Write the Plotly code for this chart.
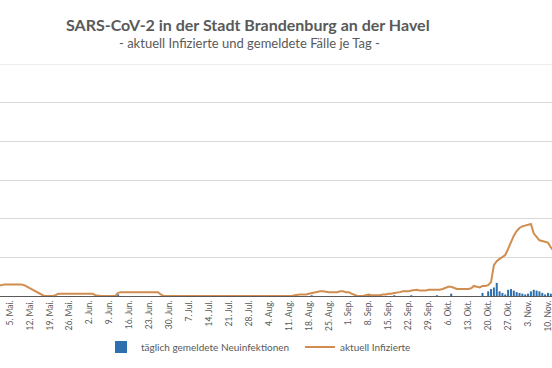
import pandas as pd
import plotly.graph_objects as go

# ---------------- data ----------------
dates = pd.date_range("2020-04-28", "2020-11-12", freq="D")

# aktuell Infizierte (active infections), per month
apr_active = [14, 14, 14]
may_active = [14, 14, 15, 15, 15, 15, 15, 15, 15, 14, 12, 10, 8, 6, 3, 1,
              0, 0, 0, 0, 1, 3, 3, 3, 3, 3, 3, 3, 3, 3, 3]
jun_active = [3, 3, 3, 1, 0, 0, 0, 0, 0, 0, 0, 4, 5, 5, 5, 5, 5, 5, 5, 5,
              5, 5, 5, 5, 5, 5, 2, 0, 0, 0]
jul_active = [0, 0, 0, 0, 0, 0, 0, 0, 0, 0, 0, 0, 0, 0, 0, 0, 0, 0, 0, 0,
              0, 0, 0, 0, 0, 0, 0, 0, 0, 0, 0]
aug_active = [0, 0, 0, 0, 0, 0, 0, 0, 0, 0, 0, 0, 1, 2, 2, 2, 2, 3, 4, 5,
              6, 6, 6, 5, 5, 5, 5, 5, 6, 6, 5]
sep_active = [5, 3, 1, 0, 0, 0, 1, 2, 1, 1, 1, 1, 2, 2, 3, 3, 4, 5, 5, 6,
              6, 6, 7, 8, 8, 7, 7, 7, 8, 8]
oct_active = [8, 8, 8, 9, 11, 12, 12, 10, 9, 9, 9, 9, 9, 10, 13, 12, 11, 13,
              13, 14, 18, 40, 45, 48, 50, 53, 61, 70, 78, 84, 88]
nov_active = [90, 91, 92, 93, 81, 76, 72, 71, 70, 69, 63, 58]

# täglich gemeldete Neuinfektionen (daily new cases), per month
apr_new = [0, 0, 0]
may_new = [1, 0, 0, 0, 0, 0, 0, 0, 0, 0, 0, 0, 0, 0, 0, 0, 0, 0, 0, 0,
           0, 0, 0, 0, 0, 0, 0, 0, 0, 0, 0]
jun_new = [0, 0, 0, 0, 0, 0, 0, 0, 0, 0, 0, 2, 0, 0, 0, 0, 0, 0, 0, 0,
           0, 0, 0, 0, 0, 0, 0, 0, 0, 0]
jul_new = [0, 0, 0, 0, 0, 0, 0, 0, 0, 0, 0, 0, 0, 0, 0, 0, 0, 0, 0, 0,
           0, 0, 0, 0, 0, 0, 0, 0, 0, 0, 0]
aug_new = [0, 0, 0, 0, 0, 0, 0, 0, 0, 0, 0, 0, 0, 0, 0, 0, 0, 0, 1, 0,
           0, 0, 0, 0, 0, 0, 0, 0, 0, 0, 0]
sep_new = [0, 0, 0, 0, 0, 0, 0, 1, 0, 0, 0, 0, 0, 0, 0, 0, 1, 0, 0, 0,
           0, 0, 1, 0, 0, 0, 0, 0, 0, 0]
oct_new = [0, 1, 0, 0, 0, 0, 3, 0, 0, 0, 0, 0, 0, 0, 0, 0, 0, 4, 0, 6,
           9, 11, 17, 6, 4, 2, 8, 9, 7, 5, 4]
nov_new = [3, 2, 3, 6, 8, 7, 6, 4, 2, 4, 3, 3]

y_gridlines = [0, 50, 100, 150, 200, 250, 300]

tick_dates = ["2020-05-05", "2020-05-12", "2020-05-19", "2020-05-26",
              "2020-06-02", "2020-06-09", "2020-06-16", "2020-06-23",
              "2020-06-30", "2020-07-07", "2020-07-14", "2020-07-21",
              "2020-07-28", "2020-08-04", "2020-08-11", "2020-08-18",
              "2020-08-25", "2020-09-01", "2020-09-08", "2020-09-15",
              "2020-09-22", "2020-09-29", "2020-10-06", "2020-10-13",
              "2020-10-20", "2020-10-27", "2020-11-03", "2020-11-10"]
tick_labels = ["5. Mai.", "12. Mai.", "19. Mai.", "26. Mai.", "2. Jun.",
               "9. Jun.", "16. Jun.", "23. Jun.", "30. Jun.", "7. Jul.",
               "14. Jul.", "21. Jul.", "28. Jul.", "4. Aug.", "11. Aug.",
               "18. Aug.", "25. Aug.", "1. Sep.", "8. Sep.", "15. Sep.",
               "22. Sep.", "29. Sep.", "6. Okt.", "13. Okt.", "20. Okt.",
               "27. Okt.", "3. Nov.", "10. Nov."]

active = apr_active + may_active + jun_active + jul_active + aug_active + sep_active + oct_active + nov_active
new_cases = apr_new + may_new + jun_new + jul_new + aug_new + sep_new + oct_new + nov_new

# ---------------- figure ----------------
W, H = 552, 368
ML, MR, MT, MB = 0, 0, 64, 72
FONT = "Lato"
GREY = "#595959"
GRID = "#D9D9D9"

fig = go.Figure()
fig.add_trace(go.Bar(
    x=dates, y=new_cases, name="täglich gemeldete Neuinfektionen",
    marker=dict(color="#2E6FAE", line=dict(width=0)),
    legend="legend",
))
fig.add_trace(go.Scatter(
    x=dates, y=active, name="aktuell Infizierte", mode="lines",
    line=dict(color="#D08D4F", width=2),
    legend="legend2",
))

def px_x(p):
    return (p - ML) / (W - ML - MR)

def px_y(p):
    return (H - MB - p) / (H - MT - MB)

fig.update_layout(
    width=W, height=H,
    margin=dict(l=ML, r=MR, t=MT, b=MB),
    paper_bgcolor="white", plot_bgcolor="white",
    font=dict(family=FONT, color=GREY),
    bargap=0.3,
    showlegend=True,
    hovermode=False,
    legend=dict(orientation="h", x=px_x(101), y=px_y(347), xanchor="left",
                yanchor="middle", font=dict(size=10, color=GREY),
                bgcolor="rgba(0,0,0,0)"),
    legend2=dict(orientation="h", x=px_x(300), y=px_y(347), xanchor="left",
                 yanchor="middle", font=dict(size=10, color=GREY),
                 bgcolor="rgba(0,0,0,0)"),
    xaxis=dict(
        type="date",
        range=["2020-05-01 12:00", "2020-11-11 10:00"],
        tickmode="array", tickvals=tick_dates, ticktext=tick_labels,
        tickangle=-90, tickfont=dict(size=8.5, color=GREY),
        ticklabeloverflow="allow",
        showgrid=False, showline=True, linecolor="#595959", linewidth=1,
        layer="below traces", ticks="", zeroline=False,
    ),
    yaxis=dict(
        range=[y_gridlines[0], y_gridlines[-1]], tickvals=y_gridlines,
        showticklabels=False, ticks="",
        showgrid=True, gridcolor=GRID, gridwidth=1, zeroline=False,
        showline=False,
    ),
    shapes=[dict(type="line", xref="paper", x0=0, x1=1, yref="y",
                 y0=y_gridlines[-1], y1=y_gridlines[-1],
                 line=dict(color=GRID, width=1), layer="below")],
    annotations=[
        dict(text="SARS-CoV-2 in der Stadt Brandenburg an der Havel",
             xref="paper", yref="paper", x=px_x(248), y=px_y(24),
             xanchor="center", yanchor="middle", showarrow=False,
             font=dict(family=FONT, size=16, color=GREY, weight="bold")),
        dict(text="- aktuell Infizierte und gemeldete Fälle je Tag -",
             xref="paper", yref="paper", x=px_x(249), y=px_y(43),
             xanchor="center", yanchor="middle", showarrow=False,
             font=dict(family=FONT, size=13, color=GREY)),
    ],
)

fig.write_html(
    "out.html",
    config={"displayModeBar": False, "staticPlot": True},
    post_script="document.body.style.margin='0';document.body.style.padding='0';",
)
